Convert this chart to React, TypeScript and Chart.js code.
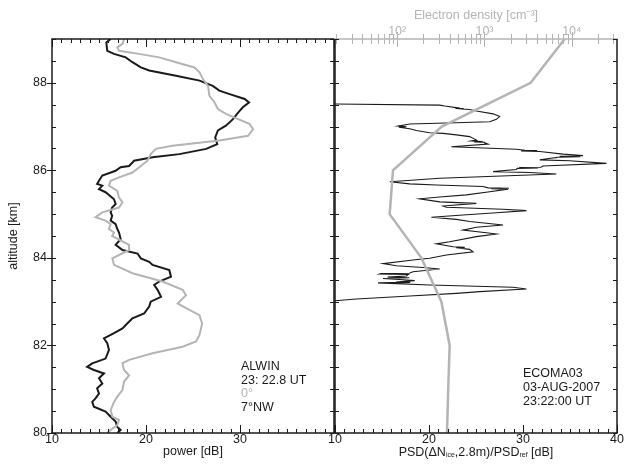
import React, { useEffect, useRef } from 'react';
import { Chart, registerables } from 'chart.js';
Chart.register(...registerables);

const FONT = "'Liberation Sans', Arial, Helvetica, sans-serif";
const GRAY = '#b4b4b4';
const BLACK = '#1a1a1a';

// ---- Left panel: ALWIN radar power profiles ----
const alwin0Alt = [89.0, 88.89, 88.81, 88.73, 88.66, 88.58, 88.47, 88.35, 88.24, 88.09, 87.93, 87.7, 87.55, 87.4, 87.29, 87.17, 87.06, 86.94, 86.79, 86.68, 86.56, 86.49, 86.37, 86.22, 86.1, 85.95, 85.84, 85.76, 85.65, 85.53, 85.38, 85.27, 85.15, 85.04, 84.93, 84.85, 84.77, 84.66, 84.58, 84.5, 84.3, 84.18, 83.99, 83.84, 83.65, 83.46, 83.27, 83.15, 82.96, 82.85, 82.69, 82.5, 82.24, 82.09, 81.97, 81.82, 81.67, 81.59, 81.44, 81.32, 81.17, 80.98, 80.83, 80.71, 80.52, 80.37, 80.3, 80.18, 80.07, 80.0];
const alwin0Power = [17.66, 17.5, 16.95, 17.13, 19.27, 21.4, 23.19, 25.15, 25.7, 26.04, 26.6, 26.75, 27.3, 27.65, 28.5, 29.8, 31.0, 31.4, 30.86, 27.8, 22.8, 21.05, 20.5, 20.16, 19.45, 18.56, 17.13, 16.24, 16.06, 16.95, 17.13, 17.5, 17.13, 15.35, 14.63, 15.7, 16.24, 16.06, 16.6, 16.4, 18.2, 18.2, 16.42, 16.6, 18.56, 21.76, 23.9, 24.26, 23.37, 24.26, 25.69, 25.97, 25.69, 25.33, 23.9, 20.7, 18.2, 17.49, 17.66, 18.2, 17.66, 17.49, 16.95, 16.6, 16.24, 16.42, 17.13, 16.95, 16.24, 15.88];

const alwin7Alt = [89.0, 88.92, 88.73, 88.66, 88.58, 88.47, 88.35, 88.28, 88.16, 88.05, 87.93, 87.82, 87.74, 87.63, 87.55, 87.44, 87.32, 87.17, 87.02, 86.91, 86.75, 86.6, 86.49, 86.37, 86.3, 86.22, 86.18, 86.1, 86.07, 85.99, 85.88, 85.76, 85.69, 85.65, 85.57, 85.5, 85.34, 85.23, 85.15, 85.04, 84.96, 84.85, 84.77, 84.66, 84.58, 84.43, 84.3, 84.18, 84.1, 83.99, 83.91, 83.84, 83.72, 83.57, 83.46, 83.38, 83.27, 83.11, 83.0, 82.89, 82.73, 82.62, 82.5, 82.39, 82.28, 82.16, 82.05, 81.9, 81.7, 81.59, 81.51, 81.44, 81.36, 81.25, 81.13, 81.02, 80.9, 80.79, 80.71, 80.6, 80.49, 80.37, 80.26, 80.14, 80.07, 80.0];
const alwin7Power = [16.24, 15.78, 15.88, 16.6, 17.84, 18.56, 19.45, 20.34, 23.19, 25.7, 27.1, 27.8, 28.9, 30.5, 30.96, 30.3, 29.8, 29.25, 28.5, 27.65, 27.36, 27.58, 26.4, 23.55, 20.7, 18.73, 18.56, 18.2, 17.3, 16.77, 15.35, 15.0, 14.8, 15.35, 15.0, 15.7, 16.6, 16.77, 16.4, 16.24, 16.4, 16.24, 16.77, 16.95, 17.13, 17.3, 16.77, 17.5, 19.1, 19.45, 20.34, 20.7, 22.48, 22.66, 21.4, 20.87, 21.23, 21.6, 20.5, 20.34, 19.8, 18.56, 18.0, 17.5, 16.6, 15.53, 15.88, 16.06, 15.7, 14.28, 13.74, 14.46, 15.53, 15.0, 15.35, 14.8, 15.0, 14.63, 14.28, 14.46, 15.7, 16.24, 16.77, 16.95, 17.3, 16.95];

// ---- Right panel: ECOMA03 PSD and electron density ----
const psdAlt = [87.515, 87.49, 87.47, 87.42, 87.415, 87.41, 87.405, 87.39, 87.355, 87.29, 87.23, 87.165, 87.11, 87.08, 87.06, 87.01, 86.995, 86.985, 86.95, 86.91, 86.86, 86.845, 86.81, 86.77, 86.69, 86.67, 86.66, 86.65, 86.64, 86.63, 86.6, 86.54, 86.48, 86.46, 86.45, 86.44, 86.43, 86.37, 86.335, 86.32, 86.31, 86.3, 86.29, 86.24, 86.22, 86.16, 86.1, 86.07, 86.065, 86.06, 86.055, 86.045, 86.02, 85.97, 85.95, 85.915, 85.82, 85.74, 85.69, 85.665, 85.63, 85.6, 85.59, 85.58, 85.57, 85.51, 85.44, 85.39, 85.35, 85.28, 85.245, 85.185, 85.155, 85.11, 85.08, 85.03, 84.98, 84.93, 84.88, 84.83, 84.75, 84.7, 84.635, 84.575, 84.545, 84.485, 84.37, 84.32, 84.255, 84.24, 84.23, 84.195, 84.14, 84.065, 83.99, 83.95, 83.87, 83.82, 83.78, 83.745, 83.685, 83.65, 83.64, 83.63, 83.62, 83.585, 83.56, 83.545, 83.53, 83.5, 83.48, 83.45, 83.44, 83.43, 83.38, 83.33, 83.29, 83.23, 83.19, 83.13, 83.06, 83.02];
const psdValue = [10, 21.14, 21.67, 23.27, 22.8, 23.7, 23.0, 24.33, 25.04, 26.81, 27.52, 27.17, 26.46, 21.85, 17.95, 16.71, 17.6, 16.8, 17.95, 18.66, 20.07, 21.49, 22.91, 24.33, 25.04, 24.5, 25.7, 24.8, 25.9, 25.93, 26.28, 22.38, 29.29, 30.2, 31.5, 29.8, 31.78, 34.26, 36.39, 33.9, 36.1, 33.6, 33.55, 31.78, 34.97, 38.87, 32.13, 31.9, 29.6, 30.36, 31.6, 29.4, 29.29, 26.81, 30.71, 33.55, 21.14, 15.82, 17.95, 20.78, 25.75, 26.3, 28.5, 26.6, 28.41, 26.46, 23.98, 21.14, 19.01, 21.14, 25.04, 21.49, 21.85, 27.88, 30.36, 27.17, 23.62, 20.25, 22.91, 24.33, 27.88, 25.04, 23.62, 26.1, 27.17, 25.04, 22.2, 20.78, 22.56, 23.8, 22.9, 24.33, 24.68, 21.85, 20.07, 18.3, 15.11, 16.53, 19.37, 21.14, 18.3, 17.9, 14.9, 14.75, 17.8, 17.59, 15.6, 17.9, 15.11, 17.24, 18.48, 16.5, 18.0, 14.58, 20.07, 28.94, 30.36, 25.39, 22.91, 17.95, 12.27, 10];

const neAlt = [89.0, 88.0, 87.0, 86.0, 85.0, 84.0, 83.0, 82.0, 81.0, 80.0];
const neDensity = [8300, 3380, 324, 89.5, 82, 189, 321, 399, 384, 372];

// ---- Tick labels ----
const leftXLabels = [10, 20, 30];
const rightXLabels = [10, 20, 30, 40];
const altLabels = [80, 82, 84, 86, 88];
const neTickValues = [100, 1000, 10000];
const neTickLabels = ['10²', '10³', '10⁴'];

const pts = (alt: number[], val: number[]) => alt.map((a, i) => ({ x: val[i], y: a }));
const font = { family: FONT, size: 12.5 };

const isMult = (v: number, s: number) => Math.abs(v / s - Math.round(v / s)) < 1e-6;

const frameTicks = {
  id: 'frameTicks',
  afterDraw(chart: any, _a: any, opts: any) {
    const { ctx, chartArea: a } = chart;
    ctx.save();
    for (const s of opts.sides || []) {
      const scale = chart.scales[s.scale];
      ctx.strokeStyle = s.color;
      ctx.lineWidth = 1;
      ctx.beginPath();
      for (const t of scale.ticks) {
        const v = t.value;
        let major: boolean;
        if (s.log) {
          const e = Math.floor(Math.log10(v) + 1e-9);
          const m = v / Math.pow(10, e);
          if (Math.abs(m - Math.round(m)) > 1e-6) continue;
          major = Math.abs(m - 1) < 1e-6 || Math.abs(m - 10) < 1e-6;
        } else {
          major = isMult(v, s.majorStep);
        }
        const p = Math.round(scale.getPixelForValue(v)) + 0.5;
        const inn = major ? s.majorIn : s.minorIn;
        const out = major ? s.majorOut || 0 : s.minorOut || 0;
        if (s.side === 'bottom') { ctx.moveTo(p, a.bottom + out); ctx.lineTo(p, a.bottom - inn); }
        if (s.side === 'top') { ctx.moveTo(p, a.top - out); ctx.lineTo(p, a.top + inn); }
        if (s.side === 'left') { ctx.moveTo(a.left - out, p); ctx.lineTo(a.left + inn, p); }
        if (s.side === 'right') { ctx.moveTo(a.right + out, p); ctx.lineTo(a.right - inn, p); }
      }
      ctx.stroke();
      ctx.lineWidth = s.width || 1.5;
      ctx.beginPath();
      if (s.side === 'bottom') { ctx.moveTo(a.left - 0.75, a.bottom); ctx.lineTo(a.right + 0.75, a.bottom); }
      if (s.side === 'top') { ctx.moveTo(a.left - 0.75, a.top); ctx.lineTo(a.right + 0.75, a.top); }
      if (s.side === 'left') { ctx.moveTo(a.left, a.top); ctx.lineTo(a.left, a.bottom); }
      if (s.side === 'right') { ctx.moveTo(a.right, a.top); ctx.lineTo(a.right, a.bottom); }
      ctx.stroke();
    }
    ctx.restore();
  },
};

export default function App() {
  const leftRef = useRef<HTMLCanvasElement>(null);
  const rightRef = useRef<HTMLCanvasElement>(null);

  useEffect(() => {
    const left = new Chart(leftRef.current!, {
      type: 'scatter',
      data: {
        datasets: [
          { data: pts(alwin0Alt, alwin0Power), showLine: true, borderColor: GRAY, borderWidth: 2, pointRadius: 0, tension: 0 },
          { data: pts(alwin7Alt, alwin7Power), showLine: true, borderColor: BLACK, borderWidth: 2, pointRadius: 0, tension: 0 },
        ],
      },
      options: {
        responsive: false,
        animation: false,
        events: [],
        layout: { padding: { top: 39, right: 2, left: 0, bottom: 0 } },
        plugins: {
          legend: { display: false },
          tooltip: { enabled: false },
          frameTicks: {
            sides: [
              { scale: 'x', side: 'bottom', color: BLACK, majorStep: 10, minorIn: 4, majorIn: 8 },
              { scale: 'x', side: 'top', color: BLACK, majorStep: 10, minorIn: 4, majorIn: 8 },
              { scale: 'y', side: 'left', color: BLACK, majorStep: 2, minorIn: 4, majorIn: 4, majorOut: 5 },
              { scale: 'y', side: 'right', color: BLACK, majorStep: 2, minorIn: 4, majorIn: 4 },
            ],
          },
        } as any,
        scales: {
          x: {
            type: 'linear', min: 10, max: 40,
            grid: { display: false, drawTicks: false }, border: { display: false },
            ticks: { stepSize: 1, autoSkip: false, maxRotation: 0, padding: -1, color: BLACK, font,
              callback: (v: any) => (leftXLabels.includes(v) ? String(v) : '') },
            title: { display: true, text: 'power [dB]', color: BLACK, font, padding: { top: 0, bottom: 9.5 } },
            afterFit: (s: any) => { s.height = 36; },
          },
          y: {
            type: 'linear', min: 80, max: 89,
            grid: { display: false, drawTicks: false }, border: { display: false },
            ticks: { stepSize: 0.5, autoSkip: false, padding: 5, color: BLACK, font,
              callback: (v: any) => (altLabels.includes(v) ? String(v) : '') },
            title: { display: true, text: 'altitude [km]', color: BLACK, font, padding: { top: 6.5, bottom: 0 } },
            afterFit: (s: any) => { s.width = 52; },
          },
        },
      },
      plugins: [frameTicks],
    });

    const right = new Chart(rightRef.current!, {
      type: 'scatter',
      data: {
        datasets: [
          { data: pts(neAlt, neDensity), xAxisID: 'x2', showLine: true, borderColor: GRAY, borderWidth: 2.5, pointRadius: 0, tension: 0 },
          { data: pts(psdAlt, psdValue), xAxisID: 'x', showLine: true, borderColor: BLACK, borderWidth: 1.1, pointRadius: 0, tension: 0 },
        ],
      },
      options: {
        responsive: false,
        animation: false,
        events: [],
        layout: { padding: { top: 0, right: 8, left: 9, bottom: 0 } },
        plugins: {
          legend: { display: false },
          tooltip: { enabled: false },
          frameTicks: {
            sides: [
              { scale: 'x', side: 'bottom', color: BLACK, majorStep: 10, minorIn: 4, majorIn: 8 },
              { scale: 'x2', side: 'top', color: GRAY, log: true, minorIn: 5, minorOut: 5, majorIn: 8, majorOut: 7 },
              { scale: 'y', side: 'left', color: BLACK, majorStep: 2, minorIn: 4, majorIn: 4 },
              { scale: 'y', side: 'right', color: BLACK, majorStep: 2, minorIn: 4, majorIn: 4 },
            ],
          },
        } as any,
        scales: {
          x: {
            type: 'linear', min: 10, max: 40, position: 'bottom',
            grid: { display: false, drawTicks: false }, border: { display: false },
            ticks: { stepSize: 1, autoSkip: false, maxRotation: 0, padding: -1, color: BLACK, font,
              callback: (v: any) => (rightXLabels.includes(v) ? String(v) : '') },
            afterFit: (s: any) => { s.height = 36; },
          },
          x2: {
            type: 'logarithmic', position: 'top', min: Math.pow(10, 1.2875), max: Math.pow(10, 4.518),
            grid: { display: false, drawTicks: false }, border: { display: false },
            ticks: { autoSkip: false, maxRotation: 0, padding: 0, color: GRAY, font,
              callback: (v: any) => {
                const i = neTickValues.findIndex((t) => Math.abs(t - v) < 1e-6 * t);
                return i >= 0 ? neTickLabels[i] : '';
              } },
            title: { display: true, text: 'Electron density [cm⁻³]', color: GRAY, font, padding: { top: 8.5, bottom: 0 } },
            afterFit: (s: any) => { s.height = 39; },
          },
          y: {
            type: 'linear', min: 80, max: 89,
            grid: { display: false, drawTicks: false }, border: { display: false },
            ticks: { stepSize: 0.5, autoSkip: false, display: false },
            afterFit: (s: any) => { s.width = 0; },
          },
        },
      },
      plugins: [frameTicks],
    });

    return () => { left.destroy(); right.destroy(); };
  }, []);

  const txt: React.CSSProperties = { position: 'absolute', fontFamily: FONT, fontSize: 12.5, color: BLACK, whiteSpace: 'nowrap' };

  return (
    <div style={{ position: 'fixed', left: 0, top: 0, width: 625, height: 469, background: '#fff', overflow: 'hidden' }}>
      <canvas ref={leftRef} width={336} height={469} style={{ position: 'absolute', left: 0, top: 0, width: 336, height: 469 }} />
      <canvas ref={rightRef} width={299} height={469} style={{ position: 'absolute', left: 326, top: 0, width: 299, height: 469 }} />
      <div style={{ ...txt, left: 241, top: 360, lineHeight: '13.5px' }}>
        <div>ALWIN</div>
        <div>23: 22.8 UT</div>
        <div style={{ color: GRAY }}>0°</div>
        <div>7°NW</div>
      </div>
      <div style={{ ...txt, left: 523, top: 365.8, lineHeight: '14.2px' }}>
        <div>ECOMA03</div>
        <div>03-AUG-2007</div>
        <div>23:22:00 UT</div>
      </div>
      <div style={{ ...txt, left: 335, width: 282, top: 444.5, lineHeight: '14px', textAlign: 'center' }}>
        PSD(ΔN<span style={{ fontSize: 7, position: 'relative', top: 1.5 }}>ice</span>,2.8m)/PSD<span style={{ fontSize: 7, position: 'relative', top: 1.5 }}>ref</span> [dB]
      </div>
    </div>
  );
}
